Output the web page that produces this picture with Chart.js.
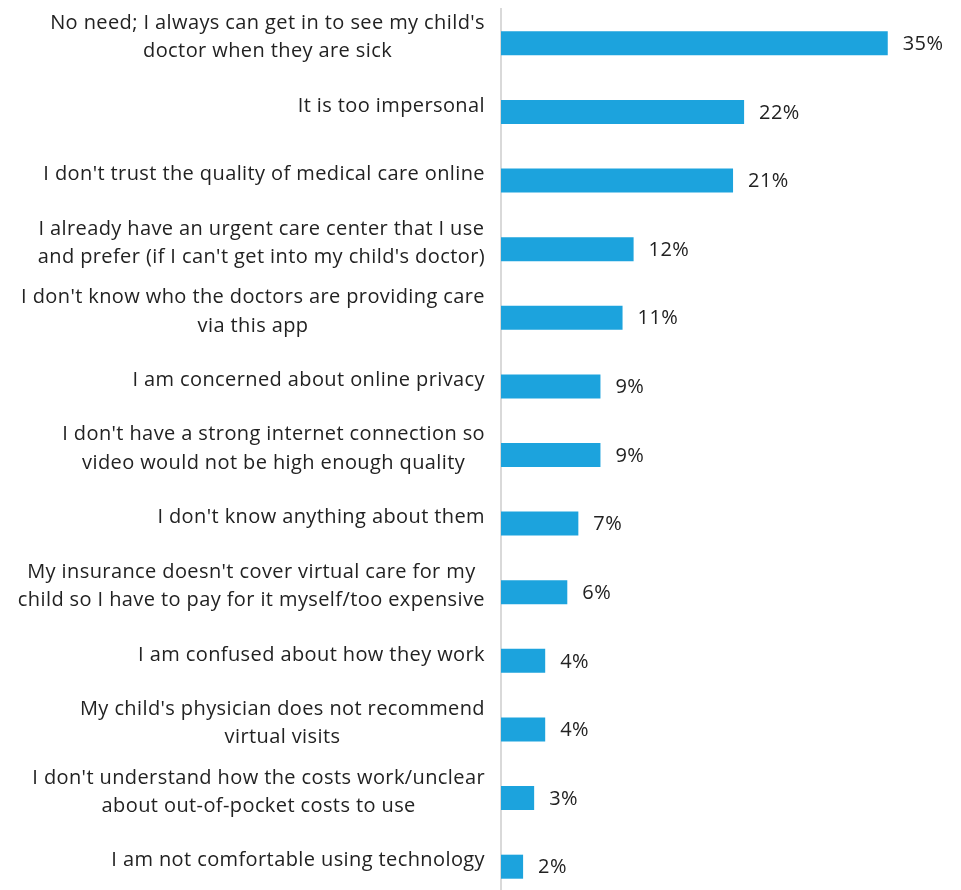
<!DOCTYPE html>
<html>
<head>
<meta charset="utf-8">
<script src="https://cdn.jsdelivr.net/npm/chart.js@4/dist/chart.umd.min.js"></script>
<style>
  html, body { margin: 0; padding: 0; background: #fff; overflow: hidden; }
</style>
</head>
<body>
<canvas id="myChart" width="961" height="901"></canvas>
<script>
var reasons = [
  ["No need; I always can get in to see my child's", "doctor when they are sick"],
  ["It is too impersonal"],
  ["I don't trust the quality of medical care online"],
  ["I already have an urgent care center that I use", "and prefer (if I can't get into my child's doctor)"],
  ["I don't know who the doctors are providing care", "via this app"],
  ["I am concerned about online privacy"],
  ["I don't have a strong internet connection so", "video would not be high enough quality"],
  ["I don't know anything about them"],
  ["My insurance doesn't cover virtual care for my", "child so I have to pay for it myself/too expensive"],
  ["I am confused about how they work"],
  ["My child's physician does not recommend", "virtual visits"],
  ["I don't understand how the costs work/unclear", "about out-of-pocket costs to use"],
  ["I am not comfortable using technology"]
];

var percents = [35, 22, 21, 12, 11, 9, 9, 7, 6, 4, 4, 3, 2];

var barColour = '#1ca3dd';
var textColour = '#222222';
var fontSpec = '20px "Open Sans", Lato, sans-serif';
var spacing = '0.4px';

// category text on the left: block right-aligned, lines centred inside it
var reasonLabels = {
  id: 'reasonLabels',
  afterDraw: function(chart) {
    var c = chart.ctx;
    var yAxis = chart.scales.y;
    var rightEdge = chart.chartArea.left - 16;
    var lineH = 28.5;
    c.save();
    c.font = fontSpec;
    c.letterSpacing = spacing;
    c.fillStyle = textColour;
    c.textAlign = 'center';
    c.textBaseline = 'middle';
    reasons.forEach(function(lines, i) {
      var widest = 0;
      lines.forEach(function(l) { widest = Math.max(widest, c.measureText(l).width); });
      var cx = rightEdge - widest / 2;
      var cy = yAxis.getPixelForValue(i) - 6;
      var top = cy - (lines.length - 1) * lineH / 2;
      lines.forEach(function(l, k) {
        c.fillText(l, cx, top + k * lineH);
      });
    });
    c.restore();
  }
};

// percentage at the end of each bar
var valueLabels = {
  id: 'valueLabels',
  afterDatasetsDraw: function(chart) {
    var c = chart.ctx;
    var meta = chart.getDatasetMeta(0);
    var xAxis = chart.scales.x;
    c.save();
    c.font = fontSpec;
    c.letterSpacing = spacing;
    c.fillStyle = textColour;
    c.textAlign = 'left';
    c.textBaseline = 'middle';
    meta.data.forEach(function(bar, i) {
      c.fillText(percents[i] + '%', xAxis.getPixelForValue(percents[i]) + 15, bar.y + 1);
    });
    c.restore();
  }
};

var ctx = document.getElementById('myChart').getContext('2d');

var chart = new Chart(ctx, {
  type: 'bar',
  data: {
    labels: reasons,
    datasets: [{
      data: percents,
      backgroundColor: barColour,
      borderWidth: 0,
      barPercentage: 0.35,
      categoryPercentage: 1
    }]
  },
  options: {
    indexAxis: 'y',
    responsive: false,
    animation: false,
    layout: { padding: { top: 9, right: 18, bottom: 0, left: 0 } },
    plugins: {
      legend: { display: false },
      tooltip: { enabled: false }
    },
    scales: {
      x: {
        display: false,
        min: 0,
        max: 40
      },
      y: {
        grid: { display: false },
        border: { display: true, color: '#d9d9d9', width: 2 },
        ticks: { display: false },
        afterFit: function(scale) { scale.width = 501; }
      }
    }
  },
  plugins: [reasonLabels, valueLabels]
});
</script>
</body>
</html>
